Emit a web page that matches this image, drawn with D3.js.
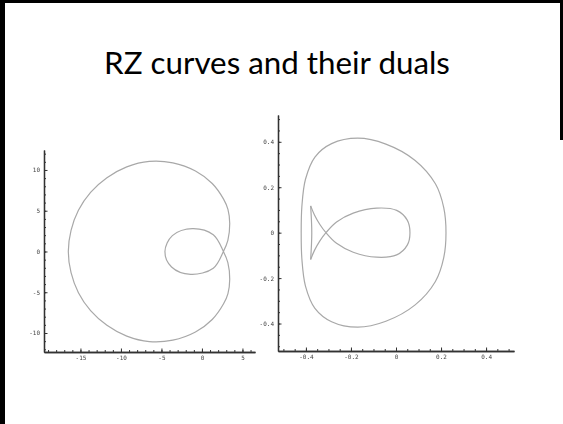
<!DOCTYPE html>
<html><head><meta charset="utf-8">
<script src="https://cdn.jsdelivr.net/npm/d3@7"></script>
<style>html,body{margin:0;padding:0;background:#fff;overflow:hidden}</style>
</head><body>
<script>
const W = 563, H = 424;
const titleText = "RZ curves and their duals";

// RZ curve: one closed path, inner loop first, then the outer loop
const rzCurve = [
  [-4.57, 0], [-3.75, -1.9], [-1.4, -2.8], [1.4, -2.05], [2.65, 0],
  [3.2, 1.36], [3.43, 3.42], [3.21, 5.16], [2.67, 6.42], [1.27, 8.34],
  [-0.8, 9.87], [-3.59, 10.87], [-6.5, 11.05], [-9.28, 10.38], [-11.73, 9.05],
  [-13.75, 7.25], [-15.25, 5.05], [-16.16, 2.59], [-16.5, 0],
  [-16.16, -2.59], [-15.25, -5.05], [-13.75, -7.25], [-11.73, -9.05], [-9.28, -10.38],
  [-6.5, -11.05], [-3.59, -10.87], [-0.8, -9.87], [1.27, -8.34], [2.67, -6.42],
  [3.21, -5.16], [3.43, -3.42], [3.2, -1.36], [2.65, 0],
  [1.4, 2.05], [-1.2, 2.8], [-3.65, 1.95]
];

// Dual curve: convex outer oval
const dualOuter = [
  [0.222, 0], [0.212, 0.11], [0.175, 0.215], [0.085, 0.318], [-0.045, 0.39],
  [-0.17, 0.416], [-0.286, 0.392], [-0.36, 0.333], [-0.402, 0.235], [-0.418, 0.115],
  [-0.421, 0], [-0.418, -0.115], [-0.402, -0.235], [-0.36, -0.333], [-0.286, -0.392],
  [-0.17, -0.416], [-0.045, -0.39], [0.085, -0.318], [0.175, -0.215], [0.212, -0.11]
];

// Dual curve: fish-shaped branch between its two cusps
const dualFish = [
  [-0.379, 0.118], [-0.362, 0.078], [-0.338, 0.036], [-0.311, 0], [-0.264, -0.047],
  [-0.19, -0.086], [-0.086, -0.108], [0.003, -0.098], [0.05, -0.055], [0.062, 0],
  [0.05, 0.055], [0.003, 0.098], [-0.086, 0.108], [-0.19, 0.086], [-0.264, 0.047],
  [-0.311, 0], [-0.338, -0.036], [-0.362, -0.078], [-0.379, -0.118]
];
// Tail edge joining the two cusps
const dualFishEdge = [[-0.379, -0.118], [-0.374, 0], [-0.379, 0.118]];

const rzXTicks = [-15, -10, -5, 0, 5];
const rzYTicks = [-10, -5, 0, 5, 10];
const dualXTicks = [-0.4, -0.2, 0, 0.2, 0.4];
const dualYTicks = [-0.4, -0.2, 0, 0.2, 0.4];

const svg = d3.select("body").append("svg")
  .attr("width", W).attr("height", H)
  .style("display", "block");

const defs = svg.append("defs");
defs.append("filter").attr("id", "soft")
  .attr("x", "-5%").attr("y", "-5%").attr("width", "110%").attr("height", "110%")
  .append("feGaussianBlur").attr("stdDeviation", 0.5);

// slide frame
svg.append("rect").attr("x", 0).attr("y", 0).attr("width", 5).attr("height", H).attr("fill", "#000");
svg.append("rect").attr("x", 0).attr("y", 0).attr("width", W).attr("height", 3).attr("fill", "#000");
svg.append("rect").attr("x", W - 3).attr("y", 0).attr("width", 3).attr("height", 140).attr("fill", "#000");

// title, sized to its line width
const title = svg.append("text")
  .attr("x", 277).attr("y", 74)
  .attr("text-anchor", "middle")
  .style("font-family", "Lato, 'Open Sans', sans-serif")
  .style("font-size", "32px")
  .attr("fill", "#000")
  .text(titleText);
const tw = title.node().getComputedTextLength();
title.style("font-size", (32 * 346 / tw).toFixed(2) + "px");

function panel(opts) {
  const g = svg.append("g").attr("filter", "url(#soft)");
  const x = opts.x, y = opts.y;
  const tickFont = (sel) => sel.selectAll("text")
    .style("font-family", "'DejaVu Sans Mono', monospace")
    .style("font-size", "6px")
    .attr("fill", "#444");
  const styleAxis = (sel) => {
    sel.select(".domain").attr("stroke", "#333").attr("stroke-width", 1.3);
    sel.selectAll(".tick line").attr("stroke", "#333").attr("stroke-width", 1);
  };

  // minor ticks
  g.append("g").attr("transform", `translate(0,${y.range()[0]})`)
    .call(d3.axisBottom(x).tickValues(opts.xMinor).tickSize(-2).tickSizeOuter(0).tickFormat(""))
    .call(styleAxis);
  g.append("g").attr("transform", `translate(${x.range()[0]},0)`)
    .call(d3.axisLeft(y).tickValues(opts.yMinor).tickSize(-2).tickSizeOuter(0).tickFormat(""))
    .call(styleAxis);
  // major ticks with labels
  g.append("g").attr("transform", `translate(0,${y.range()[0]})`)
    .call(d3.axisBottom(x).tickValues(opts.xMajor).tickSize(-3.5).tickSizeOuter(0).tickPadding(4).tickFormat(opts.fmt))
    .call(styleAxis).call(tickFont);
  g.append("g").attr("transform", `translate(${x.range()[0]},0)`)
    .call(d3.axisLeft(y).tickValues(opts.yMajor).tickSize(-3.5).tickSizeOuter(0).tickPadding(4).tickFormat(opts.fmt))
    .call(styleAxis).call(tickFont);

  opts.curves.forEach(c => {
    g.append("path")
      .attr("d", d3.line().x(d => x(d[0])).y(d => y(d[1])).curve(c.curve)(c.data))
      .attr("fill", "none")
      .attr("stroke", "#a8a8a8")
      .attr("stroke-width", 1.2);
  });
}

const fmt = v => (v === 0 ? "0" : String(v));

// left panel: RZ curve
const xL = d3.scaleLinear().domain([-19.5, 6.55]).range([44, 255]);
const yL = d3.scaleLinear().domain([-12.33, 12.45]).range([352, 150]);
panel({
  x: xL, y: yL,
  xMajor: rzXTicks, yMajor: rzYTicks,
  xMinor: d3.range(-19, 7, 1), yMinor: d3.range(-12, 13, 1),
  fmt,
  curves: [{ data: rzCurve, curve: d3.curveCatmullRomClosed.alpha(0.5) }]
});

// right panel: dual curve
const xR = d3.scaleLinear().domain([-0.524, 0.524]).range([278, 514]);
const yR = d3.scaleLinear().domain([-0.521, 0.518]).range([351, 115]);
panel({
  x: xR, y: yR,
  xMajor: dualXTicks, yMajor: dualYTicks,
  xMinor: d3.range(-10, 11).map(i => i * 0.05), yMinor: d3.range(-10, 11).map(i => i * 0.05),
  fmt,
  curves: [
    { data: dualOuter, curve: d3.curveCatmullRomClosed.alpha(0.5) },
    { data: dualFish, curve: d3.curveCatmullRom.alpha(0.5) },
    { data: dualFishEdge, curve: d3.curveCatmullRom.alpha(0.5) }
  ]
});
</script>
</body></html>
